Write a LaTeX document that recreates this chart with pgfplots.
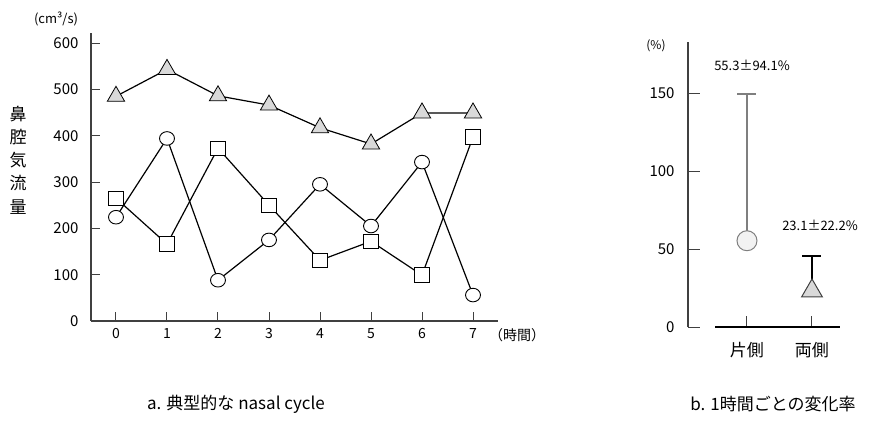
\documentclass[border=0pt]{standalone}
\usepackage{fontspec}
\setmainfont{Noto Sans CJK JP}
\usepackage{pgfplots}
\pgfplotsset{compat=1.18}
\definecolor{axisgray}{HTML}{404040}
\definecolor{midgray}{HTML}{7F7F7F}
\definecolor{lightfill}{HTML}{D9D9D9}
\definecolor{paleFill}{HTML}{F2F2F2}
\begin{document}
\begin{tikzpicture}[x=1pt,y=1pt]
\path[use as bounding box] (0,0) rectangle (875,421);
% ---------------- left chart ----------------
\begin{axis}[
  at={(91pt,100pt)}, anchor=south west,
  scale only axis, width=407pt, height=288pt,
  xmin=-0.49, xmax=7.49, ymin=0, ymax=621.6,
  axis x line=bottom, axis y line=left,
  axis line style={-, color=axisgray, line width=1.2pt},
  xtick={0,1,2,3,4,5,6,7}, ytick={0,100,200,300,400,500,600},
  tick align=inside, major tick length=9pt,
  tick style={color=axisgray, line width=1pt},
  /pgf/number format/assume math mode=true,
  xticklabel style={font=\fontsize{14}{16}\selectfont, yshift=-4pt},
  yticklabel style={font=\fontsize{15}{17}\selectfont, xshift=-9pt},
  clip=false,
]
\addplot[black, line width=1.2pt, mark=triangle*, mark size=10pt,
  mark options={fill=lightfill, draw=black, line width=0.8pt}]
  coordinates {(0,485) (1,543) (2,486) (3,466) (4,417) (5,382) (6,449) (7,449)};
\addplot[black, line width=1.2pt, mark=*, mark size=6.8pt,
  mark options={xscale=1.1, fill=white, draw=black, line width=0.9pt}]
  coordinates {(0,224) (1,394) (2,88) (3,175) (4,295) (5,205) (6,343) (7,56)};
\addplot[black, line width=1.2pt, mark=square*, mark size=7.2pt,
  mark options={fill=white, draw=black, line width=0.9pt}]
  coordinates {(0,265) (1,166) (2,373) (3,250) (4,131) (5,172) (6,99) (7,397)};
\end{axis}
\node[font=\fontsize{13}{15}\selectfont] at (56,402) {(cm³/s)};
\node[font=\fontsize{14}{16}\selectfont] at (517,86) {（時間）};
\node[font=\fontsize{17}{23.3}\selectfont, align=center] at (18,261) {鼻\\腔\\気\\流\\量};
% ---------------- right chart ----------------
\begin{axis}[
  at={(688pt,94pt)}, anchor=south west,
  scale only axis, width=150pt, height=285pt,
  xmin=0, xmax=1, ymin=0, ymax=182.7,
  axis x line=none, axis y line=left,
  axis line style={-, color=axisgray, line width=1.2pt},
  ytick={0,50,100,150},
  tick align=inside, major tick length=12pt,
  tick style={color=axisgray, line width=1pt},
  /pgf/number format/assume math mode=true,
  yticklabel style={font=\fontsize{15}{17}\selectfont, xshift=-10pt},
]
\end{axis}
\begin{axis}[
  at={(715pt,94pt)}, anchor=south west,
  scale only axis, width=125pt, height=285pt,
  xmin=0.508, xmax=2.431, ymin=0, ymax=182.7,
  axis x line=bottom, axis y line=none,
  axis line style={-, color=black, line width=1.2pt},
  xtick={1,2}, xticklabels={片側,両側},
  tick align=inside, major tick length=11pt,
  tick style={color=axisgray, line width=1pt},
  xticklabel style={font=\fontsize{17}{19}\selectfont, yshift=-12pt},
  clip=false,
]
\addplot[only marks, mark=*, mark size=10pt,
  mark options={fill=paleFill, draw=midgray, line width=1pt},
  error bars/.cd, y dir=plus, y explicit,
  error bar style={color=midgray, line width=2pt},
  error mark options={rotate=90, mark size=9.5pt, color=midgray, line width=2pt}]
  coordinates {(1,55.3) +- (0,94.1)};
\addplot[only marks, mark=triangle*, mark size=12pt,
  mark options={fill=lightfill, draw=axisgray, line width=1pt},
  error bars/.cd, y dir=plus, y explicit,
  error bar style={color=black, line width=2pt},
  error mark options={rotate=90, mark size=9.5pt, color=black, line width=2pt}]
  coordinates {(2,23.1) +- (0,22.2)};
\end{axis}
\node[font=\fontsize{13}{15}\selectfont] at (752,356) {55.3±94.1\%};
\node[font=\fontsize{13}{15}\selectfont] at (820,196) {23.1±22.2\%};
\node[font=\fontsize{12}{14}\selectfont] at (656,375) {(\%)};
% ---------------- captions ----------------
\node[font=\fontsize{17}{19}\selectfont] at (236,17) {a. 典型的な nasal cycle};
\node[font=\fontsize{17}{19}\selectfont] at (773,17) {b. 1時間ごとの変化率};
\end{tikzpicture}
\end{document}
